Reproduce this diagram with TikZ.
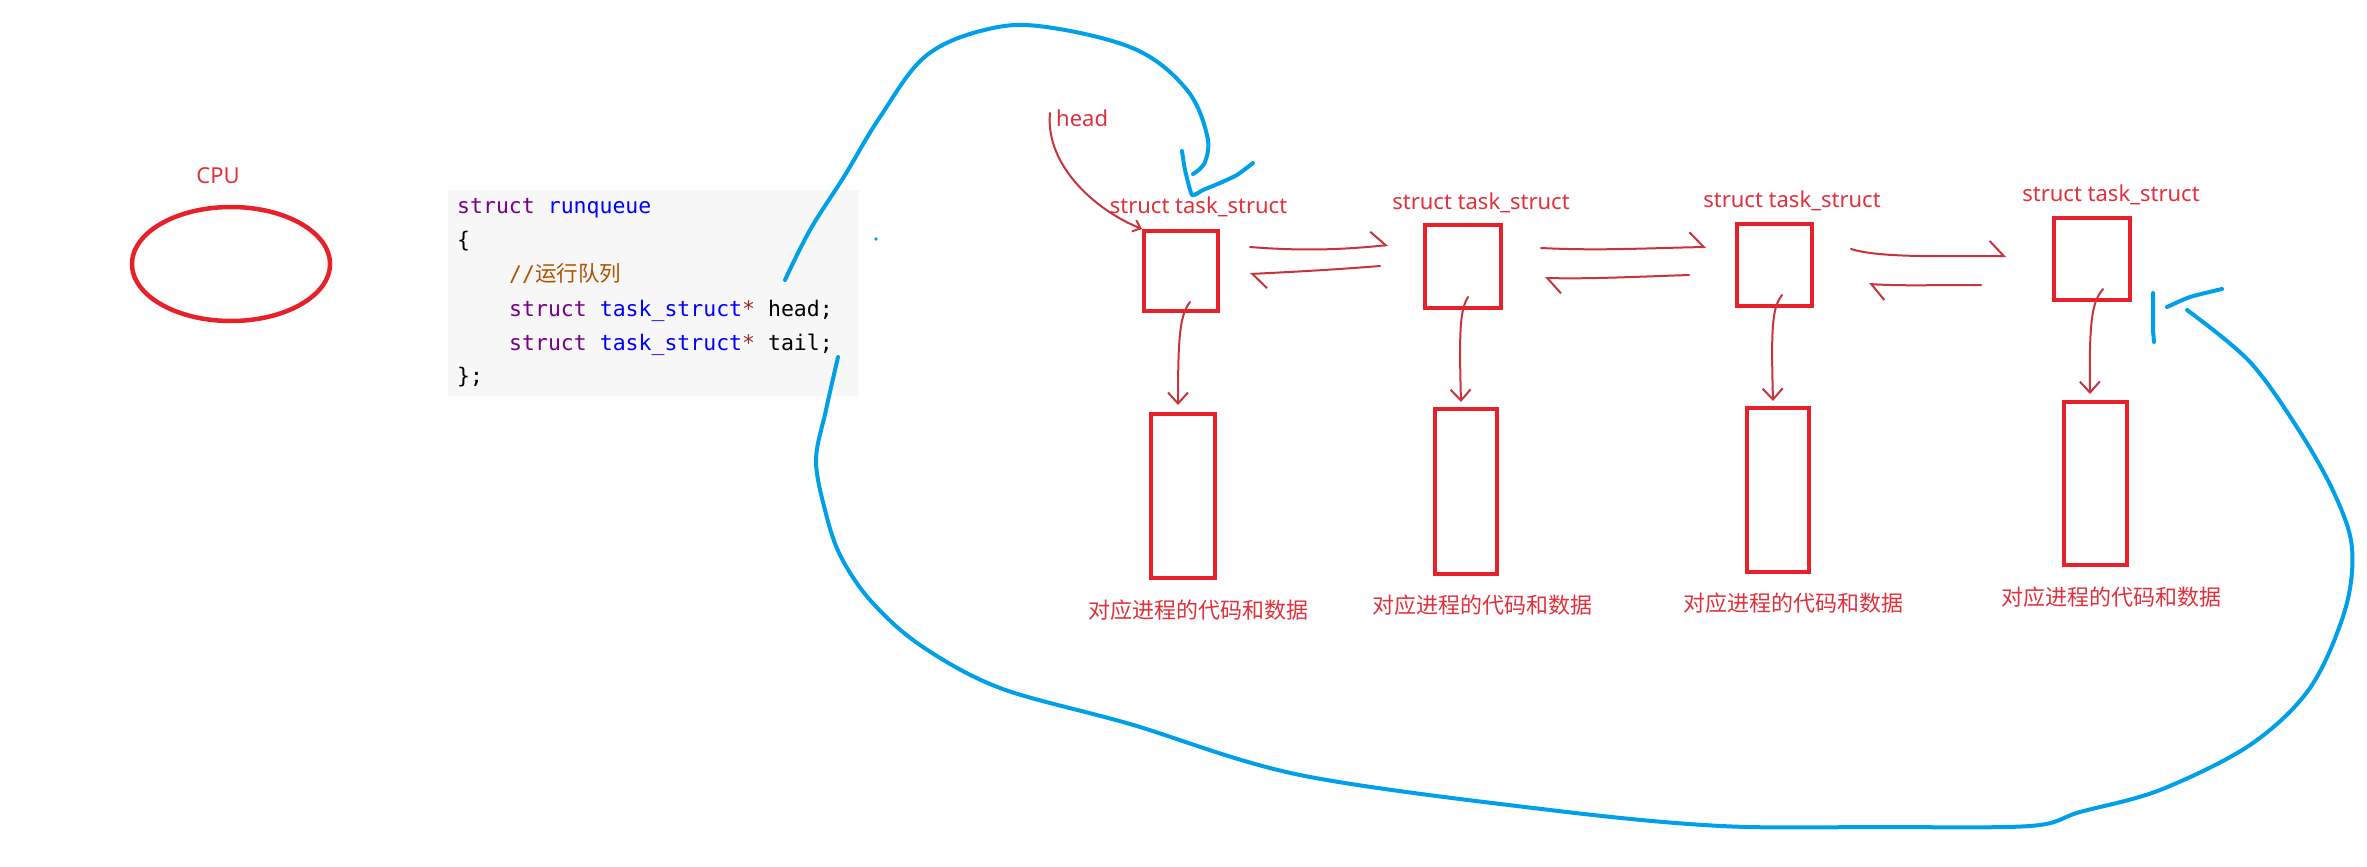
\documentclass[tikz,border=0pt]{standalone}
\usepackage{fontspec}
\usetikzlibrary{arrows.meta,shapes.geometric}
\newfontfamily\cjkf{Noto Sans CJK SC}
\newfontfamily\labf{Noto Sans}
\newfontfamily\codef{DejaVu Sans Mono}
\definecolor{boxred}{HTML}{E8202A}
\definecolor{lblred}{HTML}{E0303C}
\definecolor{arrred}{HTML}{C8343E}
\definecolor{penblue}{HTML}{00A0E9}
\definecolor{codebg}{HTML}{F7F7F7}
\definecolor{kw}{HTML}{770088}
\definecolor{def}{HTML}{0000FF}
\definecolor{cmt}{HTML}{AA5500}
\definecolor{star}{HTML}{A0282A}
\tikzset{
  codetxt/.style={anchor=base west, inner sep=0pt, font=\codef\fontsize{21.5pt}{26pt}\selectfont},
  lbl/.style={inner sep=0pt, text=lblred, anchor=base, font=\labf\fontsize{22pt}{26pt}\selectfont},
  cjklbl/.style={inner sep=0pt, text=lblred, anchor=base, font=\cjkf\fontsize{22pt}{26pt}\selectfont},
  tbox/.style={draw=boxred, line width=4pt, inner sep=0pt},
  thinred/.style={draw=arrred, line width=2pt, line cap=round},
  downarr/.style={thinred, -{Straight Barb[length=11pt,width=20pt]}},
  harp/.style={thinred, -{Straight Barb[harpoon,length=14pt,width=30pt]}},
  bluepen/.style={draw=penblue, line width=4pt, line cap=round, line join=round}
}
\begin{document}
\begin{tikzpicture}[x=1pt,y=-1pt]
\useasboundingbox (0,0) rectangle (2367,867);

% CPU
\node[lbl] (cpu) at (218,183) {CPU};
\node[ellipse, draw=boxred, line width=4.5pt, minimum width=198pt, minimum height=114pt, inner sep=0pt] (cpuell) at (231,264) {};

% code block
\node[fill=codebg, minimum width=411pt, minimum height=206pt, inner sep=0pt] (codebox) at (653.5,293) {};
\node[codetxt] (l1) at (457,213) {\textcolor{kw}{struct} \textcolor{def}{runqueue}};
\node[codetxt] (l2) at (457,247) {\{};
\node[codetxt] (l3) at (509,281) {\textcolor{cmt}{//{\cjkf 运行队列}}};
\node[codetxt] (l4) at (509,316) {\textcolor{kw}{struct} \textcolor{def}{task\_struct}\textcolor{star}{*} head;};
\node[codetxt] (l5) at (509,350) {\textcolor{kw}{struct} \textcolor{def}{task\_struct}\textcolor{star}{*} tail;};
\node[codetxt] (l6) at (457,383) {\};};

% task boxes
\node[tbox, minimum width=74pt, minimum height=80pt] (t1) at (1181,271) {};
\node[tbox, minimum width=76pt, minimum height=83pt] (t2) at (1463,266.5) {};
\node[tbox, minimum width=75pt, minimum height=82pt] (t3) at (1774.5,265) {};
\node[tbox, minimum width=76pt, minimum height=82pt] (t4) at (2092,259) {};

\node[lbl] (s1) at (1198.5,213) {struct task\_struct};
\node[lbl] (s2) at (1481,209) {struct task\_struct};
\node[lbl] (s3) at (1792,207) {struct task\_struct};
\node[lbl] (s4) at (2111,201) {struct task\_struct};

% data boxes
\node[tbox, minimum width=64pt, minimum height=164pt] (b1) at (1183,496) {};
\node[tbox, minimum width=62pt, minimum height=165pt] (b2) at (1466,491.5) {};
\node[tbox, minimum width=62pt, minimum height=164pt] (b3) at (1778,490) {};
\node[tbox, minimum width=63pt, minimum height=163pt] (b4) at (2095.5,483.5) {};

\node[cjklbl] (d1) at (1198,618) {对应进程的代码和数据};
\node[cjklbl] (d2) at (1482,613) {对应进程的代码和数据};
\node[cjklbl] (d3) at (1793,611) {对应进程的代码和数据};
\node[cjklbl] (d4) at (2111,605) {对应进程的代码和数据};

% head label and arrow
\node[lbl, anchor=base west] (head) at (1056,126) {head};
\coordinate (hs) at (1050,113);
\draw[thinred, -{Straight Barb[length=7pt,width=12pt]}] (hs) .. controls (1045,165) and (1095,210) .. (t1.north west);

% vertical arrows
\coordinate (v1s) at (1190,302); \coordinate (v1e) at (1178,405);
\coordinate (v2s) at (1468,297); \coordinate (v2e) at (1461,402);
\coordinate (v3s) at (1782,295); \coordinate (v3e) at (1773,401);
\coordinate (v4s) at (2103,289); \coordinate (v4e) at (2090,394);
\draw[downarr] (v1s) .. controls (1180,315) and (1178,335) .. (v1e);
\draw[downarr] (v2s) .. controls (1460,310) and (1459,330) .. (v2e);
\draw[downarr] (v3s) .. controls (1772,308) and (1771,328) .. (v3e);
\draw[downarr] (v4s) .. controls (2092,302) and (2089,320) .. (v4e);

% horizontal arrows
\coordinate (a12s) at (1250,247); \coordinate (a12e) at (1388,245);
\coordinate (a21s) at (1380,266); \coordinate (a21e) at (1250,274);
\coordinate (a23s) at (1541,248); \coordinate (a23e) at (1706,247);
\coordinate (a32s) at (1689,275); \coordinate (a32e) at (1545,278);
\coordinate (a34s) at (1851,249); \coordinate (a34e) at (2006,256);
\coordinate (a43s) at (1981,285); \coordinate (a43e) at (1869,284);
\draw[harp] (a12s) .. controls (1300,251) and (1340,250) .. (a12e);
\draw[harp] (a21s) .. controls (1330,270) and (1290,272) .. (a21e);
\draw[harp] (a23s) .. controls (1600,251) and (1650,248) .. (a23e);
\draw[harp] (a32s) .. controls (1630,277) and (1590,279) .. (a32e);
\draw[harp] (a34s) .. controls (1880,258) and (1940,256) .. (a34e);
\draw[harp] (a43s) .. controls (1930,285) and (1900,286) .. (a43e);

% blue pen: head link (top loop)
\draw[bluepen] plot[smooth, tension=0.6] coordinates {(785,280) (810,230) (845,175) (880,117) (927,55) (993,28) (1053,28) (1137,50) (1187,90) (1207,135) (1205,162) (1193,174)};
\draw[bluepen] plot[smooth, tension=0.3] coordinates {(1182,151) (1185,170) (1192,195) (1203,190) (1220,183) (1237,175) (1253,163)};

% blue pen: tail link (bottom loop)
\draw[bluepen] plot[smooth, tension=0.55] coordinates {(838,357) (826,410) (816,460) (825,510) (840,555) (870,600) (920,645) (1000,688) (1130,724) (1300,775) (1550,810) (1721,826) (1880,827) (2030,826) (2080,812) (2160,790) (2250,745) (2310,688) (2345,610) (2352,548) (2335,495) (2300,432) (2250,362) (2187,310)};
\draw[bluepen] (2153,293) -- (2153,330) -- (2154,342);
\draw[bluepen] plot[smooth, tension=0.4] coordinates {(2167,307) (2190,297) (2222,289)};

% small blue dot
\fill[penblue] (876,239) circle (1.8pt);
\end{tikzpicture}
\end{document}
